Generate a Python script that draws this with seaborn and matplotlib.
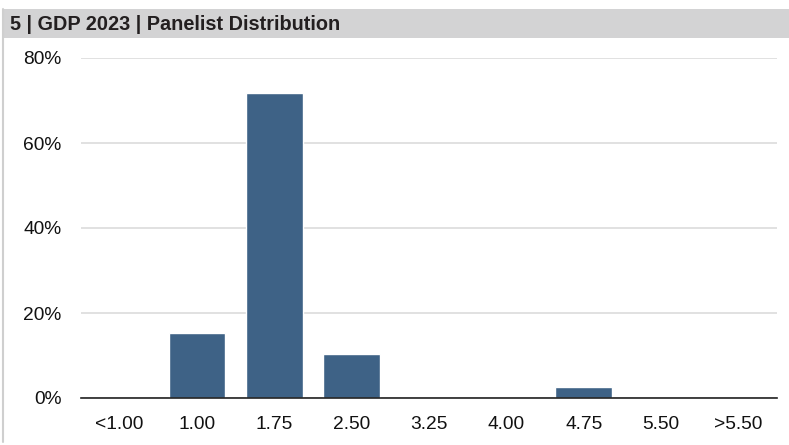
import matplotlib
matplotlib.use("Agg")
import matplotlib.pyplot as plt
from matplotlib.patches import Rectangle
from matplotlib.lines import Line2D
from matplotlib.ticker import FuncFormatter
import seaborn as sns
import pandas as pd

# Share of panelists by GDP 2023 forecast bucket (%)
categories = ["<1.00", "1.00", "1.75", "2.50", "3.25", "4.00", "4.75", "5.50", ">5.50"]
shares = [0.0, 15.4, 71.8, 10.3, 0.0, 0.0, 2.6, 0.0, 0.0]
title = "5 | GDP 2023 | Panelist Distribution"
y_ticks = [0, 20, 40, 60, 80]

sns.set_theme(style="white")
plt.rcParams["font.family"] = ["Liberation Sans", "DejaVu Sans"]

W, H = 789, 445
fig = plt.figure(figsize=(W / 100, H / 100), dpi=100)

# header band and left frame line
fig.patches.append(Rectangle((3 / W, 1 - 38 / H), 1 - 3 / W, 29 / H,
                             transform=fig.transFigure, facecolor="#d3d3d4",
                             edgecolor="none", zorder=0))
fig.lines.append(Line2D([3 / W, 3 / W], [1 - 442 / H, 1 - 9 / H],
                        transform=fig.transFigure, color="#cfcfcf", lw=1.5))
fig.text(10 / W, 1 - 24 / H, title, ha="left", va="center",
         fontsize=14.3, fontweight="bold", color="#231f20")

ax = fig.add_axes([81 / W, 1 - 398 / H, 696 / W, 340 / H])
df = pd.DataFrame({"bucket": categories, "share": shares})
sns.barplot(data=df, x="bucket", y="share", color="#3e6286", saturation=1,
            width=0.73, ax=ax, zorder=3)

ax.set_ylim(0, 80)
ax.set_yticks(y_ticks)
ax.yaxis.set_major_formatter(FuncFormatter(lambda v, p: f"{v:.0f}%"))
ax.set_xlabel("")
ax.set_ylabel("")
for s in ["top", "right", "left"]:
    ax.spines[s].set_visible(False)
ax.spines["bottom"].set_color("#222222")
ax.spines["bottom"].set_linewidth(1.2)
ax.spines["bottom"].set_zorder(4)
ax.grid(axis="y", color="#dcdcdc", linewidth=1.2, zorder=0)
ax.set_axisbelow(True)
ax.tick_params(axis="y", length=0, pad=14, labelsize=13.8, labelcolor="#111111")
ax.tick_params(axis="x", length=0, pad=13, labelsize=13.8, labelcolor="#111111")

fig.savefig("out.png", dpi=100)
